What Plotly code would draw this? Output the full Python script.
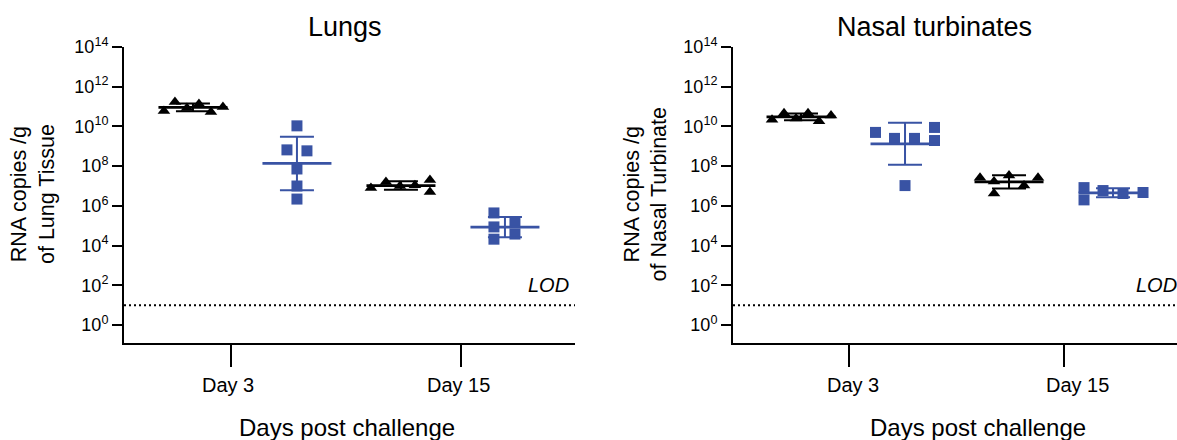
import numpy as np
import plotly.graph_objects as go

# ---------------- data ----------------
panels = ["Lungs", "Nasal turbinates"]
days = ["Day 3", "Day 15"]
y_titles = ["RNA copies /g<br>of Lung Tissue", "RNA copies /g<br>of Nasal Turbinate"]
x_title = "Days post challenge"
lod_value = 10
lod_label = "LOD"
y_tick_exponents = [0, 2, 4, 6, 8, 10, 12, 14]

lungs_day3_black = [6.0e10, 1.7e11, 8.5e10, 1.35e11, 5.4e10, 9.5e10]
lungs_day3_blue = [1.07e10, 6.6e8, 5.9e8, 7.2e7, 1.0e7, 2.2e6]
lungs_day15_black = [7.9e6, 1.6e7, 1.0e7, 1.1e7, 2.0e7, 5.0e6]
lungs_day15_blue = [4.4e5, 8.7e4, 2.1e4, 1.4e5, 3.8e4]

nasal_day3_black = [2.2e10, 4.6e10, 2.5e10, 4.6e10, 1.8e10, 3.6e10]
nasal_day3_blue = [5.0e9, 2.5e9, 2.5e9, 8.9e9, 1.95e9, 1.05e7]
nasal_day15_black = [2.6e7, 1.7e7, 3.4e7, 1.05e7, 2.6e7, 4.2e6]
nasal_day15_blue = [8.3e6, 2.0e6, 5.9e6, 4.2e6, 4.7e6]

series_data = {
    ("Lungs", 0, 0): lungs_day3_black,
    ("Lungs", 0, 1): lungs_day3_blue,
    ("Lungs", 1, 0): lungs_day15_black,
    ("Lungs", 1, 1): lungs_day15_blue,
    ("Nasal turbinates", 0, 0): nasal_day3_black,
    ("Nasal turbinates", 0, 1): nasal_day3_blue,
    ("Nasal turbinates", 1, 0): nasal_day15_black,
    ("Nasal turbinates", 1, 1): nasal_day15_blue,
}

# ---------------- layout / style ----------------
W, H = 1177, 440
PX = 104.0  # pixels per x unit (one group slot)
jitter_px = {
    ("Lungs", 0, 0): [-29, -18, -6, 6, 18, 30],
    ("Lungs", 0, 1): [0, -10, 10, 0, 0, 0],
    ("Lungs", 1, 0): [-30, -15, -1, 14, 29, 29],
    ("Lungs", 1, 1): [-11, -11, -11, 10, 10],
    ("Nasal turbinates", 0, 0): [-29, -17, -5, 7, 18, 30],
    ("Nasal turbinates", 0, 1): [-29.5, -10.5, 9.5, 29.5, 29.5, 0],
    ("Nasal turbinates", 1, 0): [-29, -15, 0, 15, 29, -15],
    ("Nasal turbinates", 1, 1): [-29, -29, -10, 10, 30],
}
BLACK = "#000000"
BLUE = "#3953A4"
colors = [BLACK, BLUE]
symbols = ["triangle-up", "square"]
sizes = [11, 11]
FONT = "Arial, 'Liberation Sans', sans-serif"

x_dom = [[124 / W, 575 / W], [733 / W, 1.0]]
x_rng = [[0.337, 0.337 + 451 / PX], [0.346, 0.346 + 444 / PX]]
tick_pos = [[1.366, 3.577], [1.461, 3.529]]
label_pos = [[1.337, 3.549], [1.500, 3.654]]
y_dom = [(H - 343) / H, (H - 47) / H]
y_rng = [-0.906, 14]

fig = go.Figure()

for p, panel in enumerate(panels):
    xa = "x" if p == 0 else "x2"
    ya = "y" if p == 0 else "y2"
    for d in range(len(days)):
        for s in range(2):
            key = (panel, d, s)
            vals = np.array(series_data[key], dtype=float)
            slot = 1 + 2 * d + s
            xs = slot + np.array(jitter_px[key]) / PX
            fig.add_trace(go.Scatter(
                x=xs, y=vals, xaxis=xa, yaxis=ya, mode="markers",
                marker=dict(symbol=symbols[s], size=sizes[s], color=colors[s],
                            line=dict(width=0)),
                hoverinfo="y", showlegend=False))
            lv = np.log10(vals)
            m = lv.mean()
            sd = lv.std(ddof=1)
            gm = 10 ** m
            fig.add_trace(go.Scatter(
                x=[slot], y=[gm], xaxis=xa, yaxis=ya, mode="markers",
                marker=dict(size=1, opacity=0),
                error_x=dict(type="data", symmetric=True, array=[34.5 / PX],
                             width=0, thickness=2.7, color=colors[s]),
                error_y=dict(type="data", symmetric=False,
                             array=[10 ** (m + sd) - gm],
                             arrayminus=[gm - 10 ** (m - sd)],
                             width=17, thickness=2, color=colors[s]),
                hoverinfo="skip", showlegend=False))

tickvals = [10 ** e for e in y_tick_exponents]
ticktext = ["10<sup>%d</sup>" % e for e in y_tick_exponents]

yaxis_common = dict(
    type="log", range=y_rng, domain=y_dom, tickmode="array",
    tickvals=tickvals, ticktext=ticktext, ticks="outside", ticklen=10,
    tickwidth=2, tickcolor="black", showline=True, linewidth=2,
    linecolor="black", showgrid=False, zeroline=False, automargin=False,
    tickfont=dict(family=FONT, size=18, color="black"))

def main_x(p):
    return dict(domain=x_dom[p], range=x_rng[p], showline=True, linewidth=2,
                linecolor="black", tickmode="array", tickvals=tick_pos[p],
                ticks="outside", ticklen=22, tickwidth=2, tickcolor="black",
                showticklabels=False, showgrid=False, zeroline=False,
                automargin=False, anchor="y" if p == 0 else "y2")

fig.update_layout(
    template="none",
    xaxis=main_x(0), xaxis2=main_x(1),
    yaxis=dict(yaxis_common, anchor="x"),
    yaxis2=dict(yaxis_common, anchor="x2"),
)

shapes = []
annotations = []
for p, panel in enumerate(panels):
    xr = "x" if p == 0 else "x2"
    yr = "y" if p == 0 else "y2"
    shapes.append(dict(type="line", xref=xr + " domain", x0=0, x1=1,
                       yref=yr, y0=lod_value, y1=lod_value,
                       line=dict(color="black", width=2, dash="2px,3px")))
    annotations.append(dict(text="<i>%s</i>" % lod_label, xref=xr + " domain",
                            x=1, xanchor="right", xshift=-4 if p == 0 else 2,
                            yref=yr, y=2.0, yanchor="middle", showarrow=False,
                            font=dict(family=FONT, size=20, color="black")))
    for d, day in enumerate(days):
        annotations.append(dict(text=day, xref=xr, x=label_pos[p][d],
                                yref="paper", y=1 - 385 / H,
                                xanchor="center", yanchor="middle",
                                showarrow=False,
                                font=dict(family=FONT, size=20, color="black")))

title_x = [345 / W, 934.5 / W]
xtitle_x = [347 / W, 977.5 / W]
ytitle_x = [33 / W, 645.5 / W]
for p, panel in enumerate(panels):
    annotations.append(dict(text=panel, xref="paper", yref="paper",
                            x=title_x[p], y=1 - 27 / H, xanchor="center",
                            yanchor="middle", showarrow=False,
                            font=dict(family=FONT, size=27, color="black")))
    annotations.append(dict(text=x_title, xref="paper", yref="paper",
                            x=xtitle_x[p], y=1 - 427 / H, xanchor="center",
                            yanchor="middle", showarrow=False,
                            font=dict(family=FONT, size=24, color="black")))
    annotations.append(dict(text=y_titles[p], xref="paper", yref="paper",
                            x=ytitle_x[p], y=1 - 194 / H, xanchor="center",
                            yanchor="middle", textangle=-90, showarrow=False,
                            font=dict(family=FONT, size=21.5, color="black")))

fig.update_layout(
    shapes=shapes, annotations=annotations,
    width=W, height=H, autosize=False,
    margin=dict(l=0, r=0, t=0, b=0, pad=0),
    paper_bgcolor="white", plot_bgcolor="white", showlegend=False,
    font=dict(family=FONT, color="black"),
)

fig.write_html("out.html",
               config={"displayModeBar": False},
               post_script="document.body.style.margin='0px';")
